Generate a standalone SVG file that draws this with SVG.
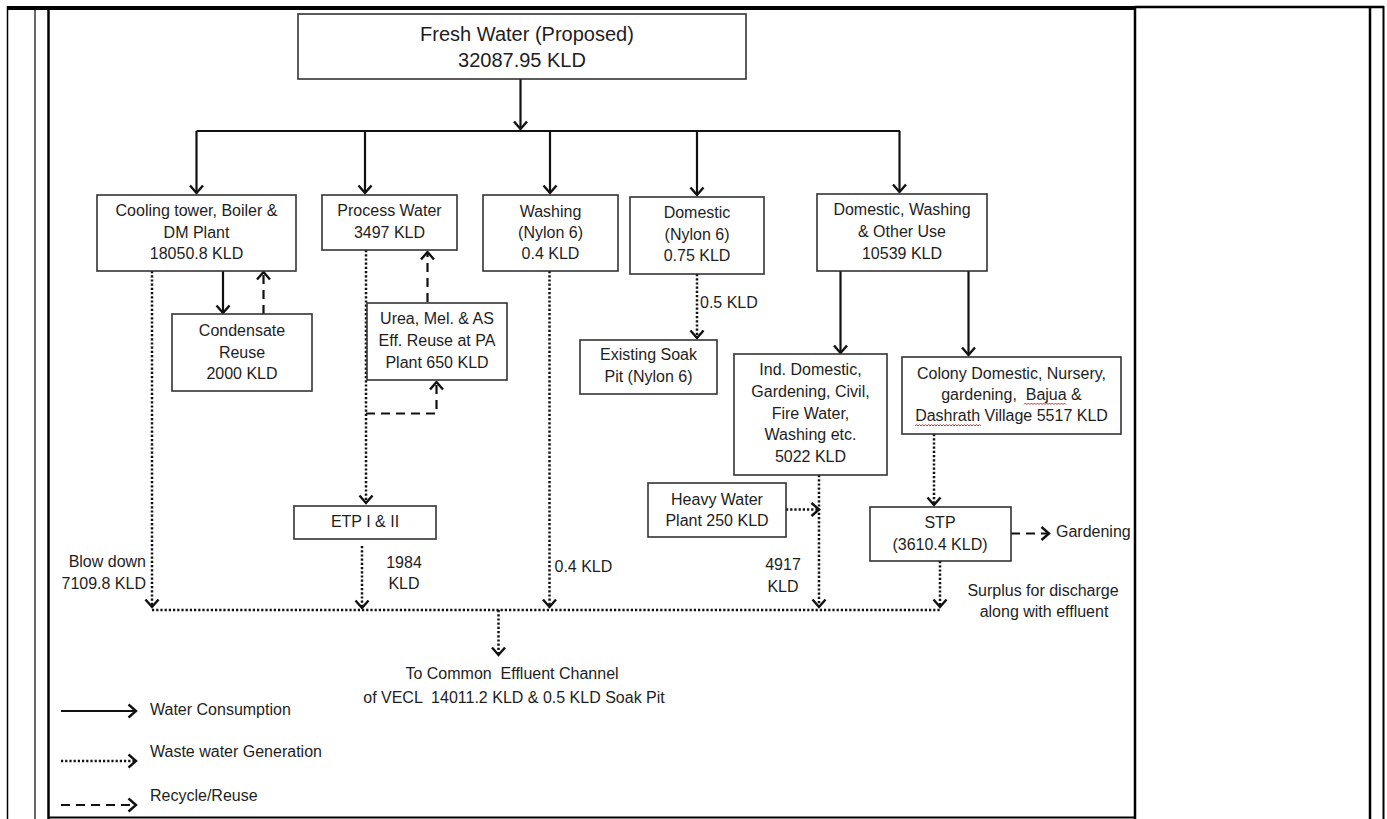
<svg xmlns="http://www.w3.org/2000/svg" width="1387" height="819" viewBox="0 0 1387 819">
  <defs>
    <style>
      .frame { stroke: #000; fill: none; }
      .box { fill: #fff; stroke: #333; stroke-width: 1.6; }
      .t { font-family: "Liberation Sans", Arial, sans-serif; font-size: 16px; fill: #1e1e1e; }
      .c { text-anchor: middle; }
      .e { text-anchor: end; }
      .big { font-size: 20px; }
      .solid { stroke: #111; stroke-width: 2.2; fill: none; }
      .dot { stroke: #111; stroke-width: 2.5; fill: none; stroke-dasharray: 2.2 2; }
      .dash { stroke: #111; stroke-width: 2.2; fill: none; stroke-dasharray: 9 6; }
      .wavy { stroke: #e02828; stroke-width: 1; fill: none; }
    </style>
    <marker id="arr" viewBox="-10 -8 12 16" refX="0" refY="0" markerWidth="12" markerHeight="16" markerUnits="userSpaceOnUse" orient="auto" overflow="visible">
      <path d="M-7.5,-6.5 L0,0 L-7.5,6.5" fill="none" stroke="#111" stroke-width="2.4" stroke-linejoin="miter"/>
    </marker>
  </defs>

  <rect width="1387" height="819" fill="#fff"/>

  <!-- page table frame -->
  <g id="frame">
    <line class="frame" x1="7" y1="8" x2="1135" y2="8" stroke-width="4"/>
    <line class="frame" x1="1135" y1="7" x2="1384" y2="7" stroke-width="2.5"/>
    <line class="frame" x1="7.5" y1="6" x2="7.5" y2="819" stroke-width="1.5"/>
    <line class="frame" x1="35" y1="8" x2="35" y2="819" stroke-width="1.2"/>
    <line class="frame" x1="48.5" y1="8" x2="48.5" y2="819" stroke-width="2.5"/>
    <line class="frame" x1="1135" y1="8" x2="1135" y2="819" stroke-width="2.5"/>
    <line class="frame" x1="1370" y1="6" x2="1370" y2="819" stroke-width="2.5"/>
    <line class="frame" x1="1383.5" y1="6" x2="1383.5" y2="819" stroke-width="2"/>
    <line class="frame" x1="48" y1="817.5" x2="1135" y2="817.5" stroke-width="2"/>
  </g>

  <!-- connectors -->
  <g id="connectors">
    <!-- water consumption -->
    <path class="solid" d="M520.5,79 V129" marker-end="url(#arr)"/>
    <path class="solid" d="M196.5,131 H900"/>
    <path class="solid" d="M196.5,131 V193" marker-end="url(#arr)"/>
    <path class="solid" d="M365,131 V193" marker-end="url(#arr)"/>
    <path class="solid" d="M550,131 V193" marker-end="url(#arr)"/>
    <path class="solid" d="M697,131 V195" marker-end="url(#arr)"/>
    <path class="solid" d="M899.5,131 V192" marker-end="url(#arr)"/>
    <path class="solid" d="M223,271 V313" marker-end="url(#arr)"/>
    <path class="solid" d="M840.5,271 V353" marker-end="url(#arr)"/>
    <path class="solid" d="M968.5,271 V355" marker-end="url(#arr)"/>

    <!-- recycle / reuse -->
    <path class="dash" d="M263.5,314 V272" marker-end="url(#arr)"/>
    <path class="dash" d="M427.5,302 V252" marker-end="url(#arr)"/>
    <path class="dash" d="M366,413.5 H436.5 V382" marker-end="url(#arr)"/>
    <path class="dash" d="M1011,533.5 H1049" marker-end="url(#arr)"/>

    <!-- waste water generation -->
    <path class="dot" d="M152,271 V607" marker-end="url(#arr)"/>
    <path class="dot" d="M366,250 V503" marker-end="url(#arr)"/>
    <path class="dot" d="M362,546 V608" marker-end="url(#arr)"/>
    <path class="dot" d="M549.5,271 V607" marker-end="url(#arr)"/>
    <path class="dot" d="M697,274 V338" marker-end="url(#arr)"/>
    <path class="dot" d="M819,475 V607" marker-end="url(#arr)"/>
    <path class="dot" d="M786,509.5 H819" marker-end="url(#arr)"/>
    <path class="dot" d="M934,434 V505" marker-end="url(#arr)"/>
    <path class="dot" d="M940,561 V607" marker-end="url(#arr)"/>
    <path class="dot" d="M152,610 H940"/>
    <path class="dot" d="M498.5,610 V655" marker-end="url(#arr)"/>
  </g>

  <!-- nodes -->
  <g id="fresh-water">
    <rect class="box" x="298" y="14" width="448" height="65" stroke-width="2"/>
    <text class="t c big" x="527" y="41">Fresh Water (Proposed)</text>
    <text class="t c big" x="522" y="67">32087.95 KLD</text>
  </g>

  <g id="cooling-tower">
    <rect class="box" x="97" y="195" width="199" height="76"/>
    <text class="t c" x="196.5" y="216">Cooling tower, Boiler &amp;</text>
    <text class="t c" x="196.5" y="237.5">DM Plant</text>
    <text class="t c" x="196.5" y="259">18050.8 KLD</text>
  </g>

  <g id="process-water">
    <rect class="box" x="322" y="195" width="135" height="55"/>
    <text class="t c" x="389.5" y="216">Process Water</text>
    <text class="t c" x="389.5" y="238">3497 KLD</text>
  </g>

  <g id="washing-nylon">
    <rect class="box" x="483" y="195" width="135" height="76"/>
    <text class="t c" x="550.5" y="217">Washing</text>
    <text class="t c" x="550.5" y="238">(Nylon 6)</text>
    <text class="t c" x="550.5" y="259">0.4 KLD</text>
  </g>

  <g id="domestic-nylon">
    <rect class="box" x="630" y="197" width="134" height="77"/>
    <text class="t c" x="697" y="217.5">Domestic</text>
    <text class="t c" x="697" y="239.5">(Nylon 6)</text>
    <text class="t c" x="697" y="261">0.75 KLD</text>
  </g>

  <g id="domestic-washing-other">
    <rect class="box" x="817" y="194" width="170" height="77"/>
    <text class="t c" x="902" y="215">Domestic, Washing</text>
    <text class="t c" x="902" y="237">&amp; Other Use</text>
    <text class="t c" x="902" y="258.5">10539 KLD</text>
  </g>

  <g id="condensate-reuse">
    <rect class="box" x="172" y="314" width="140" height="77"/>
    <text class="t c" x="242" y="336">Condensate</text>
    <text class="t c" x="242" y="357.5">Reuse</text>
    <text class="t c" x="242" y="379">2000 KLD</text>
  </g>

  <g id="urea-reuse">
    <rect class="box" x="367" y="303" width="140" height="77"/>
    <text class="t c" x="437" y="324">Urea, Mel. &amp; AS</text>
    <text class="t c" x="437" y="346">Eff. Reuse at PA</text>
    <text class="t c" x="437" y="367.5">Plant 650 KLD</text>
  </g>

  <g id="soak-pit">
    <rect class="box" x="580" y="340" width="137" height="54"/>
    <text class="t c" x="648.5" y="360">Existing Soak</text>
    <text class="t c" x="648.5" y="382">Pit (Nylon 6)</text>
  </g>

  <g id="ind-domestic">
    <rect class="box" x="734" y="354" width="153" height="121"/>
    <text class="t c" x="810.5" y="375">Ind. Domestic,</text>
    <text class="t c" x="810.5" y="397">Gardening, Civil,</text>
    <text class="t c" x="810.5" y="418.5">Fire Water,</text>
    <text class="t c" x="810.5" y="440">Washing etc.</text>
    <text class="t c" x="810.5" y="462">5022 KLD</text>
  </g>

  <g id="colony-domestic">
    <rect class="box" x="902" y="357" width="219" height="77"/>
    <text class="t c" x="1011.5" y="378.5">Colony Domestic, Nursery,</text>
    <text class="t c" x="1011.5" y="400" xml:space="preserve">gardening,  Bajua &amp;</text>
    <text class="t c" x="1011.5" y="421">Dashrath Village 5517 KLD</text>
    <path class="wavy" d="M1024,404.5 l1.5,-1.5 1.5,1.5 1.5,-1.5 1.5,1.5 1.5,-1.5 1.5,1.5 1.5,-1.5 1.5,1.5 1.5,-1.5 1.5,1.5 1.5,-1.5 1.5,1.5 1.5,-1.5 1.5,1.5 1.5,-1.5 1.5,1.5 1.5,-1.5 1.5,1.5 1.5,-1.5 1.5,1.5 1.5,-1.5 1.5,1.5 1.5,-1.5 1.5,1.5 1.5,-1.5 1.5,1.5 1.5,-1.5 1.5,1.5"/>
    <path class="wavy" d="M915,426 l1.5,-1.5 1.5,1.5 1.5,-1.5 1.5,1.5 1.5,-1.5 1.5,1.5 1.5,-1.5 1.5,1.5 1.5,-1.5 1.5,1.5 1.5,-1.5 1.5,1.5 1.5,-1.5 1.5,1.5 1.5,-1.5 1.5,1.5 1.5,-1.5 1.5,1.5 1.5,-1.5 1.5,1.5 1.5,-1.5 1.5,1.5 1.5,-1.5 1.5,1.5 1.5,-1.5 1.5,1.5 1.5,-1.5 1.5,1.5 1.5,-1.5 1.5,1.5 1.5,-1.5 1.5,1.5 1.5,-1.5 1.5,1.5 1.5,-1.5 1.5,1.5 1.5,-1.5 1.5,1.5 1.5,-1.5 1.5,1.5 1.5,-1.5 1.5,1.5 1.5,-1.5 1.5,1.5"/>
  </g>

  <g id="etp">
    <rect class="box" x="294" y="506" width="142" height="33"/>
    <text class="t c" x="365" y="527">ETP I &amp; II</text>
  </g>

  <g id="heavy-water">
    <rect class="box" x="648" y="483" width="138" height="54"/>
    <text class="t c" x="717" y="504.5">Heavy Water</text>
    <text class="t c" x="717" y="526">Plant 250 KLD</text>
  </g>

  <g id="stp">
    <rect class="box" x="870" y="507" width="141" height="54"/>
    <text class="t c" x="940" y="527.5">STP</text>
    <text class="t c" x="940" y="550">(3610.4 KLD)</text>
  </g>

  <!-- flow labels -->
  <g id="labels">
    <text class="t" x="700" y="308">0.5 KLD</text>
    <text class="t e" x="146" y="567">Blow down</text>
    <text class="t e" x="146" y="589">7109.8 KLD</text>
    <text class="t c" x="404" y="568">1984</text>
    <text class="t c" x="404" y="589">KLD</text>
    <text class="t" x="554.5" y="572">0.4 KLD</text>
    <text class="t c" x="783" y="570">4917</text>
    <text class="t c" x="783" y="592">KLD</text>
    <text class="t" x="1056" y="537">Gardening</text>
    <text class="t c" x="1043" y="596">Surplus for discharge</text>
    <text class="t c" x="1044" y="617">along with effluent</text>
    <text class="t c" x="512" y="679" xml:space="preserve">To Common  Effluent Channel</text>
    <text class="t c" x="514" y="703" xml:space="preserve">of VECL  14011.2 KLD &amp; 0.5 KLD Soak Pit</text>
  </g>

  <!-- legend -->
  <g id="legend">
    <path class="solid" d="M61,711 H136" marker-end="url(#arr)"/>
    <text class="t" x="150" y="715">Water Consumption</text>
    <path class="dot" d="M61,761 H136" marker-end="url(#arr)"/>
    <text class="t" x="150" y="757">Waste water Generation</text>
    <path class="dash" d="M61,805 H136" marker-end="url(#arr)"/>
    <text class="t" x="150" y="801">Recycle/Reuse</text>
  </g>
</svg>
